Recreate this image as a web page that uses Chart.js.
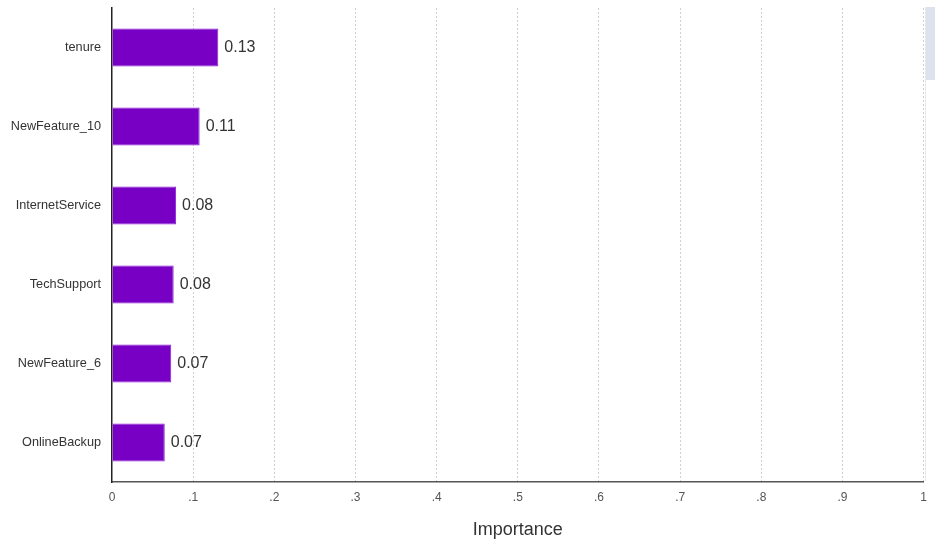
<!DOCTYPE html>
<html>
<head>
<meta charset="utf-8">
<script src="https://cdn.jsdelivr.net/npm/chart.js@4"></script>
<style>
	html, body { margin: 0; padding: 0; background: #fff; }
	#wrap { position: relative; width: 935px; height: 541px; }
	#scroll { position: absolute; left: 925px; top: 7px; width: 10px; height: 474px; border-left: 1px solid #e6e9ee; box-sizing: border-box; }
	#thumb { position: absolute; left: 0; top: 0; width: 10px; height: 73px; background: #dde3ec; }
</style>
</head>
<body>
<div id="wrap">
	<canvas id="chart" width="935" height="541"></canvas>
	<div id="scroll"><div id="thumb"></div></div>
</div>
<script>
const features = ['tenure', 'NewFeature_10', 'InternetService', 'TechSupport', 'NewFeature_6', 'OnlineBackup']
const importance = [0.131, 0.108, 0.079, 0.076, 0.073, 0.065]
const valueLabels = ['0.13', '0.11', '0.08', '0.08', '0.07', '0.07']
const xTickLabels = ['0', '.1', '.2', '.3', '.4', '.5', '.6', '.7', '.8', '.9', '1']

// подписи значений справа от столбцов
const barLabels = {
	id: 'barLabels',
	afterDatasetsDraw(chart) {
		const ctx = chart.ctx
		const meta = chart.getDatasetMeta(0)
		ctx.save()
		ctx.font = '16px "Liberation Sans", Arial, sans-serif'
		ctx.fillStyle = '#333'
		ctx.textBaseline = 'middle'
		meta.data.forEach((bar, i) => {
			ctx.fillText(valueLabels[i], bar.x + 6, bar.y)
		})
		ctx.restore()
	},
}

Chart.defaults.font.family = '"Liberation Sans", Arial, sans-serif'

new Chart(document.getElementById('chart').getContext('2d'), {
	type: 'bar',
	data: {
		labels: features,
		datasets: [
			{
				data: importance,
				backgroundColor: '#7800c4',
				borderColor: '#8a1fd6',
				borderWidth: 1,
				borderSkipped: 'start',
				categoryPercentage: 1,
				barPercentage: 0.48,
			},
		],
	},
	options: {
		indexAxis: 'y',
		responsive: false,
		animation: false,
		layout: { padding: { top: 0, right: 9, left: 0, bottom: 0 } },
		plugins: {
			legend: { display: false },
			tooltip: { enabled: false },
		},
		scales: {
			x: {
				min: 0,
				max: 1,
				ticks: {
					stepSize: 0.1,
					color: '#555',
					font: { size: 12 },
					padding: 8,
					maxRotation: 0,
					callback: (v, i) => xTickLabels[i],
				},
				grid: {
					color: ctx => (ctx.index === 0 ? 'rgba(0,0,0,0)' : '#d0d0d0'),
					lineWidth: 1,
					tickLength: 0,
				},
				border: { display: true, color: '#555', width: 1.5, dash: [2, 2] },
				title: {
					display: true,
					text: 'Importance',
					color: '#333',
					font: { size: 18 },
					padding: { top: 10, bottom: 0 },
				},
				afterFit: scale => { scale.height = 59 },
			},
			y: {
				ticks: {
					color: '#333',
					font: { size: 12.7 },
					padding: 11,
				},
				grid: { display: false, drawTicks: false },
				border: { display: true, color: '#222', width: 1.5 },
				afterFit: scale => {
					scale.width = 112
					scale.paddingTop = 8
					scale.paddingBottom = 0
				},
			},
		},
	},
	plugins: [barLabels],
})
</script>
</body>
</html>
